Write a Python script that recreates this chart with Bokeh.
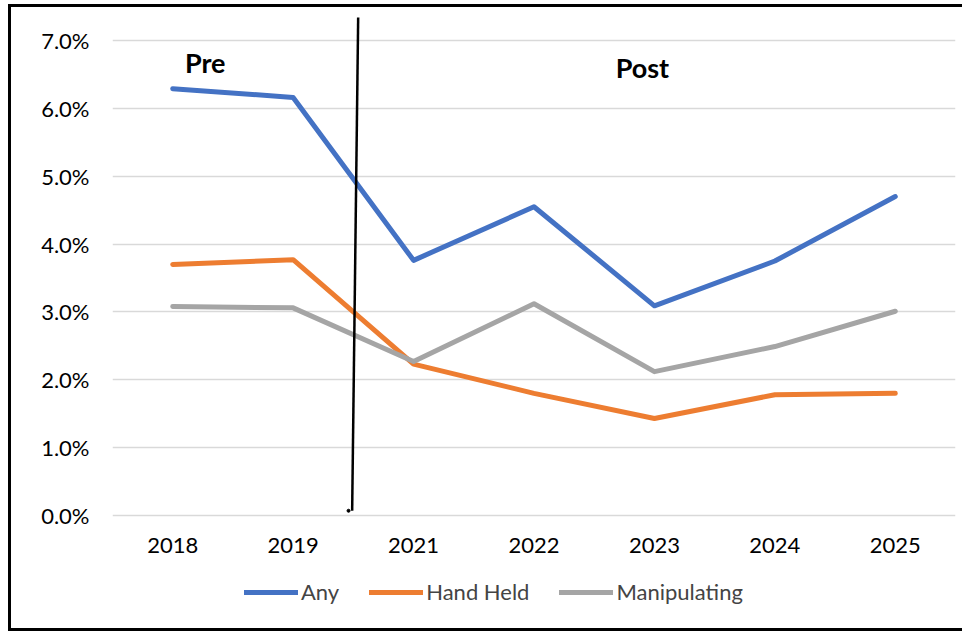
from bokeh.plotting import figure
from bokeh.models import (ColumnDataSource, FixedTicker, NumeralTickFormatter, Legend,
                          LegendItem, FactorRange, Range1d)
from bokeh.core.properties import value
from bokeh.embed import file_html
from bokeh.resources import INLINE

years = ["2018", "2019", "2021", "2022", "2023", "2024", "2025"]
any_vals = [6.29, 6.16, 3.76, 4.55, 3.09, 3.75, 4.70]
hand_vals = [3.70, 3.77, 2.23, 1.80, 1.43, 1.78, 1.80]
manip_vals = [3.08, 3.06, 2.27, 3.12, 2.12, 2.49, 3.01]
y_tick_vals = [0, 1, 2, 3, 4, 5, 6, 7]
series_names = ["Any", "Hand Held", "Manipulating"]
series_colors = ["#4472C4", "#ED7D31", "#A5A5A5"]
phase_labels = ["Pre", "Post"]

FONT = "Lato"

p = figure(x_range=FactorRange(factors=years), y_range=Range1d(-0.01621, 0.073534),
           width=954, height=627, output_backend="svg", toolbar_location=None,
           min_border_left=101, min_border_right=10, min_border_top=9, min_border_bottom=9)
p.styles = {"margin-left": "8px", "margin-top": "4px",
            "border-left": "3px solid black", "border-top": "3px solid black",
            "border-bottom": "3px solid black"}
p.outline_line_color = None
p.background_fill_color = "white"
p.border_fill_color = "white"

p.xgrid.grid_line_color = None
p.ygrid.grid_line_color = "#D9D9D9"
p.ygrid.grid_line_width = 1.5
p.yaxis.ticker = FixedTicker(ticks=[v / 100 for v in y_tick_vals])
p.yaxis.formatter = NumeralTickFormatter(format="0.0%")
p.xaxis.fixed_location = 0

for ax in (p.xaxis, p.yaxis):
    ax.axis_line_color = None
    ax.major_tick_line_color = None
    ax.minor_tick_line_color = None
    ax.major_tick_out = 0
    ax.major_tick_in = 0
    ax.major_label_text_font = FONT
    ax.major_label_text_font_size = "22px"
    ax.major_label_text_color = "#000000"
p.yaxis.major_label_standoff = 23
p.xaxis.major_label_standoff = 23

renderers = []
for name, vals, col in zip(series_names, [any_vals, hand_vals, manip_vals], series_colors):
    src = ColumnDataSource(dict(x=years, y=[v / 100 for v in vals]))
    r = p.line("x", "y", source=src, line_color=col, line_width=5, line_join="round", line_cap="round")
    renderers.append((name, r))

# hand-drawn divider between Pre and Post
div_src = ColumnDataSource(dict(x0=[("2019", 0.54)], y0=[0.0734], x1=[("2019", 0.49)], y1=[0.0007]))
p.segment("x0", "y0", "x1", "y1", source=div_src, line_color="black", line_width=2.5)
dot_src = ColumnDataSource(dict(x=[("2019", 0.46)], y=[0.0007]))
p.scatter("x", "y", source=dot_src, size=3, color="black")

txt_src = ColumnDataSource(dict(x=[("2018", 0.27), ("2023", -0.1)], y=[0.0667, 0.0660], t=phase_labels))
p.text("x", "y", text="t", source=txt_src, text_font=value(FONT), text_font_style="bold",
       text_font_size="27px", text_align="center", text_baseline="middle", text_color="black")

legend = Legend(items=[LegendItem(label=n, renderers=[r]) for n, r in renderers],
                orientation="horizontal", location=(132, 20))
legend.glyph_width = 54
legend.glyph_height = 24
legend.label_height = 24
legend.label_standoff = 3
legend.spacing = 30
legend.label_text_font = FONT
legend.label_text_font_size = "22px"
legend.border_line_color = None
legend.background_fill_alpha = 0
legend.margin = 0
legend.padding = 0
p.add_layout(legend, "center")

open("out.html", "w").write(file_html(p, INLINE))
